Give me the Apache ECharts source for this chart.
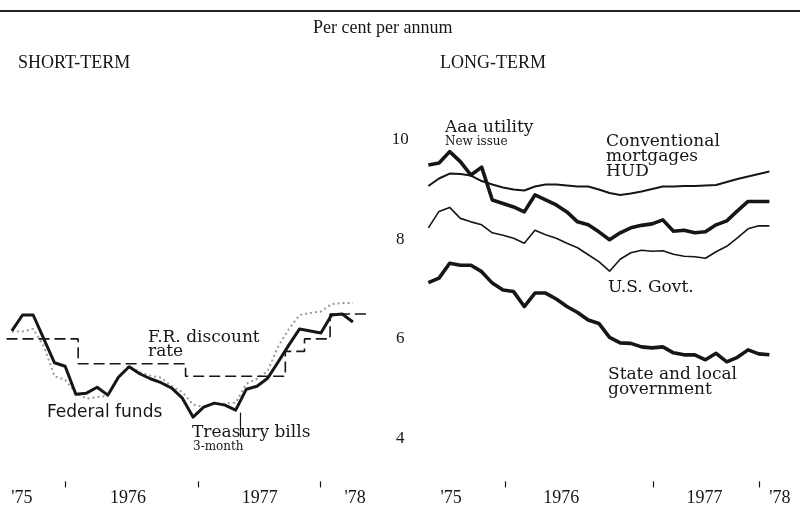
<!DOCTYPE html>
<html>
<head>
<meta charset="utf-8">
<script src="https://cdn.jsdelivr.net/npm/echarts@6/dist/echarts.min.js"></script>
<style>
  html, body { margin: 0; padding: 0; background: #fff; }
  #chart { width: 800px; height: 511px; }
</style>
</head>
<body>
<div id="chart"></div>
<script>
// monthly averages, plotted at mid-month, Jul 1975 - Mar 1978
var months = [
  '1975-07', '1975-08', '1975-09', '1975-10', '1975-11', '1975-12',
  '1976-01', '1976-02', '1976-03', '1976-04', '1976-05', '1976-06',
  '1976-07', '1976-08', '1976-09', '1976-10', '1976-11', '1976-12',
  '1977-01', '1977-02', '1977-03', '1977-04', '1977-05', '1977-06',
  '1977-07', '1977-08', '1977-09', '1977-10', '1977-11', '1977-12',
  '1978-01', '1978-02', '1978-03'
];

// short-term (per cent per annum)
var treasuryBills = [
  6.16, 6.48, 6.48, 6.00, 5.52, 5.45, 4.89, 4.91, 5.03, 4.87, 5.23, 5.44,
  5.30, 5.20, 5.12, 5.01, 4.81, 4.43, 4.63, 4.71, 4.67, 4.57, 4.99, 5.05,
  5.21, 5.54, 5.88, 6.20, 6.16, 6.12, 6.48, 6.50, 6.34
];
var federalFunds = [
  6.15, 6.15, 6.20, 5.85, 5.25, 5.18, 4.92, 4.80, 4.83, 4.86, 5.25, 5.46,
  5.33, 5.26, 5.22, 5.05, 4.93, 4.68, 4.63, 4.70, 4.70, 4.72, 5.10, 5.20,
  5.35, 5.85, 6.20, 6.48, 6.52, 6.55, 6.70, 6.72, 6.72
];
// F.R. discount rate: date of change (decimal year) and new rate
var discountDates = [1975.50, 1976.06, 1976.90, 1977.68, 1977.83, 1978.03, 1978.32];
var discountRate = [6.00, 5.50, 5.25, 5.75, 6.00, 6.50, 6.50];

// long-term
var aaaUtility = [
  9.49, 9.53, 9.76, 9.56, 9.29, 9.45, 8.79, 8.72, 8.65, 8.55, 8.89, 8.79,
  8.69, 8.55, 8.35, 8.29, 8.15, 7.99, 8.13, 8.23, 8.28, 8.31, 8.39, 8.16,
  8.18, 8.13, 8.15, 8.29, 8.37, 8.57, 8.76, 8.76, 8.76
];
var mortgagesHUD = [
  9.07, 9.22, 9.32, 9.31, 9.28, 9.17, 9.10, 9.04, 9.00, 8.98, 9.06, 9.10,
  9.10, 9.08, 9.06, 9.06, 9.00, 8.93, 8.89, 8.92, 8.96, 9.01, 9.06, 9.06,
  9.07, 9.07, 9.08, 9.09, 9.15, 9.21, 9.26, 9.31, 9.36
];
var usGovt = [
  8.23, 8.56, 8.64, 8.42, 8.35, 8.29, 8.13, 8.08, 8.02, 7.92, 8.18, 8.09,
  8.02, 7.92, 7.83, 7.69, 7.55, 7.36, 7.60, 7.73, 7.78, 7.76, 7.77, 7.70,
  7.66, 7.65, 7.62, 7.75, 7.86, 8.03, 8.21, 8.27, 8.27
];
var stateLocal = [
  7.13, 7.22, 7.52, 7.48, 7.48, 7.35, 7.12, 6.98, 6.95, 6.65, 6.92, 6.92,
  6.80, 6.65, 6.53, 6.38, 6.31, 6.03, 5.92, 5.91, 5.84, 5.82, 5.84, 5.72,
  5.68, 5.68, 5.58, 5.71, 5.54, 5.63, 5.78, 5.70, 5.68
];

// time-axis marks as drawn on each panel (decimal years)
var yearLabels = ["'75", '1976', '1977', "'78"];
var yearTicksShort = [1975.96, 1977.00, 1977.95];
var yearLabelAtShort = [1975.62, 1976.45, 1977.48, 1978.225];
var yearTicksLong = [1976.14, 1977.30, 1978.13];
var yearLabelAtLong = [1975.72, 1976.58, 1977.70, 1978.29];
var rateTicks = [4, 6, 8, 10];

function toYear(m) {
  var p = m.split('-');
  return +p[0] + (+p[1] - 0.5) / 12;
}
function monthly(values) {
  return months.map(function (m, i) { return [toYear(m), values[i]]; });
}

var INK = '#161616';
var SERIF = '"DejaVu Serif", serif';
var TIMES = '"Liberation Serif", serif';

var chart = echarts.init(document.getElementById('chart'));

function xAxis(idx, ticks, at) {
  return {
    type: 'value', gridIndex: idx, min: 1975.47, max: 1978.40, offset: 18,
    axisLine: { show: false },
    splitLine: { show: false },
    axisTick: { show: true, customValues: ticks, length: 6, lineStyle: { color: INK, width: 1.2 } },
    axisLabel: {
      customValues: at, margin: 8, color: INK, fontFamily: TIMES, fontSize: 18,
      formatter: function (v) {
        var best = 0;
        at.forEach(function (p, i) { if (Math.abs(p - v) < Math.abs(at[best] - v)) best = i; });
        return yearLabels[best];
      }
    }
  };
}
function yAxis(idx, labels) {
  return {
    type: 'value', gridIndex: idx, min: 3.5, max: 10.6,
    axisLine: { show: false }, axisTick: { show: false }, splitLine: { show: false },
    axisLabel: {
      show: labels, customValues: rateTicks, margin: 19, align: 'center',
      color: INK, fontFamily: TIMES, fontSize: 17
    }
  };
}
function line(name, data, xi, width, extra) {
  var s = {
    name: name, type: 'line', xAxisIndex: xi, yAxisIndex: xi, data: data,
    showSymbol: false, silent: true, animation: false,
    lineStyle: { color: INK, width: width, join: 'round' }
  };
  return Object.assign(s, extra || {});
}
function txt(str, left, top, size, font, lh) {
  return {
    type: 'text', left: left, top: top,
    style: { text: str, fill: INK, font: size + 'px ' + font, lineHeight: lh || size }
  };
}

chart.setOption({
  backgroundColor: '#fff',
  animation: false,
  grid: [
    { left: 2.7, top: 109.8, width: 374.7, height: 353.6 },
    { left: 419.2, top: 109.8, width: 374.7, height: 353.6 }
  ],
  xAxis: [xAxis(0, yearTicksShort, yearLabelAtShort), xAxis(1, yearTicksLong, yearLabelAtLong)],
  yAxis: [yAxis(0, false), yAxis(1, true)],
  series: [
    line('Federal funds', monthly(federalFunds), 0, 2, {
      lineStyle: { color: '#9a9a9a', width: 2, type: [2, 3] }, z: 1
    }),
    line('F.R. discount rate', discountDates.map(function (d, i) { return [d, discountRate[i]]; }), 0, 1.6, {
      step: 'end', lineStyle: { color: INK, width: 1.6, type: [11, 5] }, z: 2
    }),
    line('Treasury bills', monthly(treasuryBills), 0, 3, {
      z: 3,
      markLine: {
        silent: true, symbol: 'none', label: { show: false },
        lineStyle: { color: INK, width: 1.2, type: 'solid' },
        data: [[{ coord: [1977.33, 4.52] }, { coord: [1977.33, 4.02] }]]
      }
    }),
    line('Aaa utility', monthly(aaaUtility), 1, 3.6),
    line('Conventional mortgages HUD', monthly(mortgagesHUD), 1, 2),
    line('U.S. Govt.', monthly(usGovt), 1, 1.6),
    line('State and local government', monthly(stateLocal), 1, 3.6)
  ],
  graphic: [
    { type: 'line', shape: { x1: 0, y1: 11, x2: 800, y2: 11 }, style: { stroke: '#222', lineWidth: 2 } },
    txt('Per cent per annum', 313, 19, 18, TIMES),
    txt('SHORT-TERM', 18, 54, 18, TIMES),
    txt('LONG-TERM', 440, 54, 18, TIMES),
    txt('F.R. discount\nrate', 148, 329, 17, SERIF, 14),
    txt('Federal funds', 47, 404, 17, '"DejaVu Sans", sans-serif'),
    txt('Treasury bills', 192, 424, 17, SERIF),
    txt('3-month', 193, 441, 12, SERIF),
    txt('Aaa utility', 445, 119, 17, SERIF),
    txt('New issue', 445, 136, 12, SERIF),
    txt('Conventional\nmortgages\nHUD', 606, 133, 17, SERIF, 15),
    txt('U.S. Govt.', 608, 279, 17, SERIF),
    txt('State and local\ngovernment', 608, 366, 17, SERIF, 15)
  ]
});
</script>
</body>
</html>
